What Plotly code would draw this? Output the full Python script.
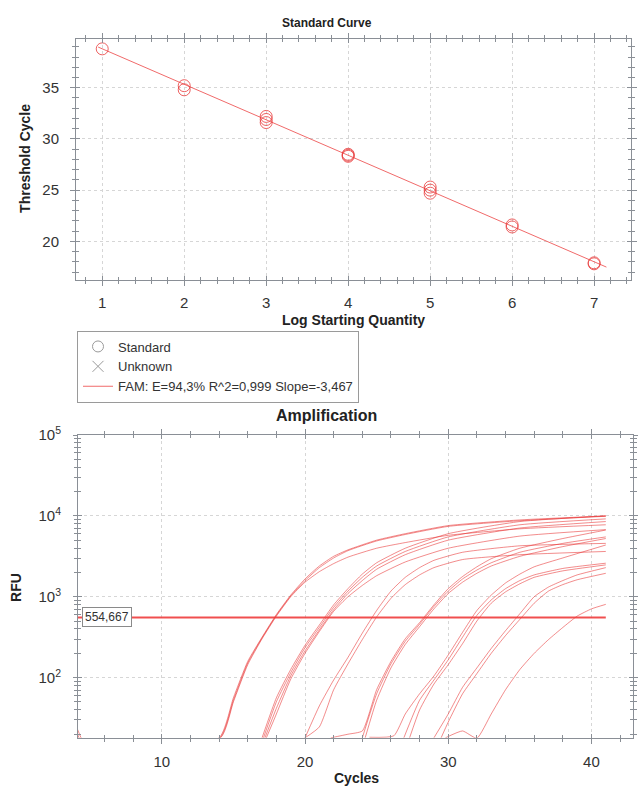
import math
import plotly.graph_objects as go

# ---------------- Standard curve data ----------------
std_log_qty = [1, 2, 2, 3, 3, 3, 4, 4, 4, 5, 5, 5, 6, 6, 7, 7]
std_ct = [38.8, 35.2, 34.8, 32.2, 31.9, 31.6, 28.5, 28.4, 28.3, 25.3, 25.0, 24.7, 21.6, 21.4, 17.9, 17.8]
fit_slope = -3.467
fit_intercept = 42.27
fit_x_span = [0.95, 7.15]
legend_labels = ["Standard", "Unknown", "FAM: E=94,3% R^2=0,999 Slope=-3,467"]

# ---------------- Amplification data ----------------
# each curve: cycles and log10(RFU)
threshold_rfu = 554.667
threshold_label = "554,667"
run_cycles = [1, 41]

A1_cyc = [4, 5, 14, 15, 16, 17, 18, 19, 20, 21, 22, 23, 25, 27, 30, 35, 41]
A1_log = [1.41, 1.08, 1.255, 1.75, 2.2, 2.5, 2.78, 3.02, 3.22, 3.38, 3.5, 3.58, 3.7, 3.78, 3.88, 3.95, 4.0]
A2_cyc = [4, 4.9, 14.05, 15, 16, 17, 18, 19, 20, 21, 22, 23, 25, 27, 30, 35, 41]
A2_log = [1.34, 1.08, 1.255, 1.72, 2.18, 2.49, 2.77, 3.01, 3.2, 3.36, 3.48, 3.57, 3.69, 3.77, 3.87, 3.94, 3.995]
A3_cyc = [4, 4.6, 14.1, 15, 16, 17, 18, 19, 20, 21, 22, 23, 25, 27, 30, 35, 41]
A3_log = [1.3, 1.08, 1.255, 1.7, 2.16, 2.48, 2.76, 3.0, 3.18, 3.31, 3.41, 3.49, 3.6, 3.67, 3.76, 3.84, 3.89]
B1_cyc = [17.0, 18, 19, 20, 21, 22, 23, 24, 25, 27, 30, 35, 41]
B1_log = [1.255, 1.75, 2.1, 2.4, 2.65, 2.9, 3.1, 3.28, 3.42, 3.6, 3.78, 3.93, 4.0]
B2_cyc = [17.1, 18, 19, 20, 21, 22, 23, 24, 25, 27, 30, 35, 41]
B2_log = [1.255, 1.7, 2.06, 2.37, 2.62, 2.87, 3.07, 3.24, 3.38, 3.56, 3.74, 3.89, 3.963]
B3_cyc = [17.2, 18, 19, 20, 21, 22, 23, 24, 25, 27, 30, 35, 41]
B3_log = [1.255, 1.62, 2.02, 2.33, 2.59, 2.84, 3.04, 3.2, 3.34, 3.52, 3.7, 3.85, 3.93]
B4_cyc = [17.3, 18, 19, 20, 21, 22, 23, 24, 25, 27, 30, 35, 41]
B4_log = [1.255, 1.55, 1.98, 2.3, 2.57, 2.82, 3.0, 3.14, 3.26, 3.43, 3.6, 3.75, 3.83]
C1_cyc = [20.0, 21, 22, 23, 24, 25, 26, 27, 28, 29, 31, 35, 41]
C1_log = [1.255, 1.65, 1.97, 2.25, 2.55, 2.83, 3.07, 3.24, 3.36, 3.45, 3.55, 3.63, 3.66]
C2_cyc = [20.0, 21, 22, 23, 24, 25, 26, 27, 28, 29, 31, 35, 41]
C2_log = [1.255, 1.39, 1.85, 2.17, 2.47, 2.75, 2.98, 3.15, 3.27, 3.36, 3.46, 3.52, 3.56]
D1_cyc = [21.8, 23, 24, 25, 26, 27, 28, 29, 30, 31, 32, 33, 35, 38, 41]
D1_log = [1.255, 1.3, 1.34, 1.85, 2.2, 2.48, 2.68, 2.9, 3.1, 3.25, 3.37, 3.47, 3.6, 3.72, 3.825]
D2_cyc = [24.0, 25, 26, 27, 28, 29, 30, 31, 32, 33, 35, 38, 41]
D2_log = [1.255, 1.8, 2.17, 2.45, 2.66, 2.88, 3.07, 3.22, 3.33, 3.42, 3.55, 3.66, 3.74]
D3_cyc = [24.2, 25, 26, 27, 28, 29, 30, 31, 32, 33, 35, 38, 41]
D3_log = [1.255, 1.72, 2.12, 2.41, 2.63, 2.85, 3.04, 3.18, 3.29, 3.38, 3.5, 3.62, 3.72]
E1_cyc = [24.5, 26.2, 27, 28, 29, 30, 31, 32, 33, 34, 35, 36, 38, 41]
E1_log = [1.262, 1.28, 1.55, 1.8, 2.02, 2.28, 2.56, 2.83, 3.02, 3.17, 3.28, 3.37, 3.48, 3.64]
E2_cyc = [26.9, 28, 29, 30, 31, 32, 33, 34, 35, 36, 38, 41]
E2_log = [1.255, 1.72, 1.97, 2.22, 2.5, 2.77, 2.96, 3.1, 3.2, 3.27, 3.35, 3.415]
E3_cyc = [27.3, 28, 29, 30, 31, 32, 33, 34, 35, 36, 38, 41]
E3_log = [1.255, 1.6, 1.92, 2.16, 2.42, 2.7, 2.92, 3.06, 3.16, 3.24, 3.32, 3.394]
F1_cyc = [29.0, 30, 31, 32, 33, 34, 35, 36, 37, 38, 39, 41]
F1_log = [1.255, 1.55, 1.88, 2.12, 2.36, 2.58, 2.79, 3.0, 3.12, 3.2, 3.27, 3.36]
F2_cyc = [29.5, 30, 31, 32, 33, 34, 35, 36, 37, 38, 39, 41]
F2_log = [1.255, 1.45, 1.8, 2.05, 2.3, 2.52, 2.72, 2.92, 3.07, 3.15, 3.21, 3.29]
G1_cyc = [29.8, 31, 32, 33, 34, 35, 36, 37, 38, 39, 40, 41]
G1_log = [1.255, 1.34, 1.25, 1.55, 1.85, 2.1, 2.3, 2.47, 2.62, 2.76, 2.85, 2.906]

amp_curves = [
    (A1_cyc, A1_log), (A2_cyc, A2_log), (A3_cyc, A3_log),
    (B1_cyc, B1_log), (B2_cyc, B2_log), (B3_cyc, B3_log), (B4_cyc, B4_log),
    (C1_cyc, C1_log), (C2_cyc, C2_log),
    (D1_cyc, D1_log), (D2_cyc, D2_log), (D3_cyc, D3_log),
    (E1_cyc, E1_log), (E2_cyc, E2_log), (E3_cyc, E3_log),
    (F1_cyc, F1_log), (F2_cyc, F2_log), (G1_cyc, G1_log),
]

# ---------------- Styling helpers ----------------
W, H = 640, 792
FONT = "Liberation Sans, Arial, sans-serif"
RED_MARK = "rgba(232,60,60,0.8)"
RED_FIT = "rgba(238,90,90,0.9)"
RED_CURVE = "rgba(232,45,45,0.55)"
AXIS_GRAY = "#8a8f96"
GRID = "#d6d6d6"


def px(x):
    return x / W


def py(y):
    return 1 - y / H


fig = go.Figure()

# ---- standard curve
fit_y = [fit_intercept + fit_slope * x for x in fit_x_span]
fig.add_trace(go.Scatter(x=fit_x_span, y=fit_y, mode="lines",
                         line=dict(color=RED_FIT, width=1),
                         showlegend=False, xaxis="x", yaxis="y"))
fig.add_trace(go.Scatter(x=std_log_qty, y=std_ct, mode="markers",
                         marker=dict(symbol="circle-open", size=12, color=RED_MARK,
                                     line=dict(width=1, color=RED_MARK)),
                         showlegend=False, xaxis="x", yaxis="y"))
# legend entries
fig.add_trace(go.Scatter(x=[None], y=[None], mode="markers", name=legend_labels[0],
                         marker=dict(symbol="circle-open", size=11, color="#9a9a9a",
                                     line=dict(width=1)),
                         xaxis="x", yaxis="y"))
fig.add_trace(go.Scatter(x=[None], y=[None], mode="markers", name=legend_labels[1],
                         marker=dict(symbol="x-thin-open", size=11, color="#9a9a9a",
                                     line=dict(width=1, color="#9a9a9a")),
                         xaxis="x", yaxis="y"))
fig.add_trace(go.Scatter(x=[None], y=[None], mode="lines", name=legend_labels[2],
                         line=dict(color=RED_FIT, width=1),
                         xaxis="x", yaxis="y"))

# ---- amplification curves
for cyc, lg in amp_curves:
    fig.add_trace(go.Scatter(x=cyc, y=[10 ** v for v in lg], mode="lines",
                             line=dict(color=RED_CURVE, width=1, shape="spline", smoothing=0.5),
                             showlegend=False, xaxis="x2", yaxis="y2"))
fig.add_trace(go.Scatter(x=run_cycles, y=[threshold_rfu] * len(run_cycles), mode="lines",
                         line=dict(color="rgba(238,60,60,0.9)", width=2),
                         showlegend=False, xaxis="x2", yaxis="y2"))

# invisible traces so overlay axes (for crossing ticks) are drawn
fig.add_trace(go.Scatter(x=[None], y=[None], showlegend=False, xaxis="x3", yaxis="y3"))
fig.add_trace(go.Scatter(x=[None], y=[None], showlegend=False, xaxis="x4", yaxis="y4"))

tickfont = dict(family=FONT, size=15, color="#333")

top_x = [0.68, 7.45]
top_y = [16.2, 39.8]
bot_x = [4.15, 42.9]
bot_y = [math.log10(18.03), 5.0]

dom_top_x = [px(76), px(631)]
dom_top_y = [py(273), py(28)]
dom_bot_x = [px(78), px(633)]
dom_bot_y = [py(737), py(430)]

common = dict(showline=True, linecolor=AXIS_GRAY, linewidth=1, mirror="ticks",
              tickcolor=AXIS_GRAY, zeroline=False, tickfont=tickfont)

fig.update_layout(
    width=W, height=H, margin=dict(l=0, r=0, t=0, b=0),
    paper_bgcolor="white", plot_bgcolor="white",
    font=dict(family=FONT, color="#222"),
    showlegend=True,
    legend=dict(x=px(77), y=py(324), xanchor="left", yanchor="top",
                bordercolor="#9a9a9a", borderwidth=1, bgcolor="white",
                font=dict(family=FONT, size=13, color="#333"),
                tracegroupgap=0, itemwidth=30),
    xaxis=dict(domain=dom_top_x, anchor="y", range=top_x, tickmode="linear", tick0=0, dtick=1,
               ticks="outside", ticklen=5, ticklabelstandoff=4,
               showgrid=True, gridcolor=GRID, griddash="dot",
               minor=dict(dtick=0.2, ticks="outside", ticklen=3, tickcolor=AXIS_GRAY, showgrid=False),
               **common),
    yaxis=dict(domain=dom_top_y, anchor="x", range=top_y, tickvals=[20, 25, 30, 35],
               ticks="outside", ticklen=5, ticklabelstandoff=8,
               showgrid=True, gridcolor=GRID, griddash="dot",
               minor=dict(tick0=0, dtick=1, ticks="outside", ticklen=3, tickcolor=AXIS_GRAY, showgrid=False),
               **common),
    xaxis3=dict(overlaying="x", anchor="y", range=top_x, tickmode="linear", tick0=0, dtick=1,
                ticks="inside", ticklen=4, tickcolor=AXIS_GRAY, showticklabels=False,
                showgrid=False, zeroline=False, showline=False, mirror="ticks",
                minor=dict(dtick=0.2, ticks="inside", ticklen=3, tickcolor=AXIS_GRAY, showgrid=False)),
    yaxis3=dict(overlaying="y", anchor="x", range=top_y, tickvals=[20, 25, 30, 35],
                ticks="inside", ticklen=4, tickcolor=AXIS_GRAY, showticklabels=False,
                showgrid=False, zeroline=False, showline=False, mirror="ticks",
                minor=dict(tick0=0, dtick=1, ticks="inside", ticklen=3, tickcolor=AXIS_GRAY, showgrid=False)),
    xaxis2=dict(domain=dom_bot_x, anchor="y2", range=bot_x, tickmode="linear", tick0=0, dtick=10,
                ticks="outside", ticklen=5, ticklabelstandoff=5,
                showgrid=True, gridcolor=GRID, griddash="dot",
                minor=dict(tick0=0, dtick=2, ticks="outside", ticklen=3, tickcolor=AXIS_GRAY, showgrid=False),
                **common),
    yaxis2=dict(domain=dom_bot_y, anchor="x2", type="log", range=bot_y,
                tickvals=[100, 1000, 10000, 100000],
                ticktext=["10<sup>2</sup>", "10<sup>3</sup>", "10<sup>4</sup>", "10<sup>5</sup>"],
                ticks="outside", ticklen=4, ticklabelstandoff=9,
                showgrid=True, gridcolor=GRID, griddash="dot",
                minor=dict(dtick="D1", ticks="outside", ticklen=3, tickcolor=AXIS_GRAY, showgrid=False),
                **common),
    xaxis4=dict(overlaying="x2", anchor="y2", range=bot_x, tickmode="linear", tick0=0, dtick=10,
                ticks="inside", ticklen=4, tickcolor=AXIS_GRAY, showticklabels=False,
                showgrid=False, zeroline=False, showline=False, mirror="ticks",
                minor=dict(tick0=0, dtick=2, ticks="inside", ticklen=3, tickcolor=AXIS_GRAY, showgrid=False)),
    yaxis4=dict(overlaying="y2", anchor="x2", type="log", range=bot_y,
                tickvals=[100, 1000, 10000, 100000],
                ticks="inside", ticklen=4, tickcolor=AXIS_GRAY, showticklabels=False,
                showgrid=False, zeroline=False, showline=False, mirror="ticks",
                minor=dict(dtick="D1", ticks="inside", ticklen=3, tickcolor=AXIS_GRAY, showgrid=False)),
)


def label(text, x, y, size, angle=0):
    fig.add_annotation(text=f"<b>{text}</b>", x=px(x), y=py(y), xref="paper", yref="paper",
                       showarrow=False, textangle=angle, xanchor="center", yanchor="middle",
                       font=dict(family=FONT, size=size, color="#222"))


label("Standard Curve", 327, 12, 12)
label("Log Starting Quantity", 353, 313, 14)
label("Threshold Cycle", 25, 150, 14, -90)
label("Amplification", 326, 410, 16)
label("RFU", 16, 585, 14, -90)
label("Cycles", 356, 778, 14)

fig.add_annotation(text=threshold_label, x=0, xref="x2 domain", xanchor="left", xshift=4,
                   y=math.log10(threshold_rfu), yref="y2", yanchor="middle",
                   showarrow=False, bgcolor="white", bordercolor="#8a8a8a", borderwidth=1,
                   borderpad=2, font=dict(family=FONT, size=12, color="#333"))

fig.write_html("out.html", config={"displayModeBar": False},
               post_script="document.body.style.margin='0px';document.body.style.overflow='hidden';")
